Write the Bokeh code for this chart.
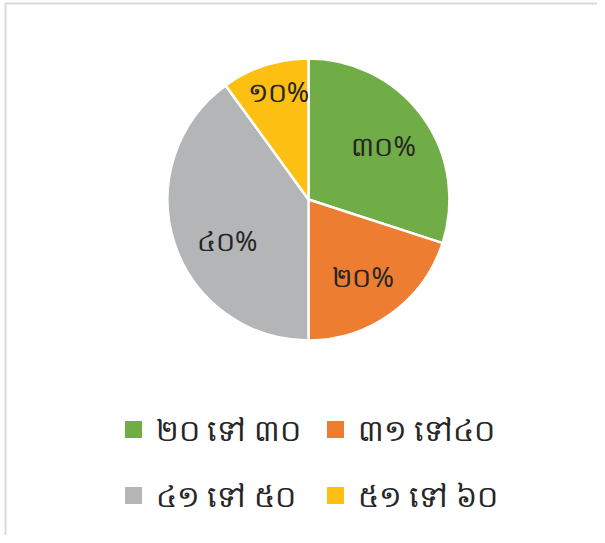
import numpy as np
from bokeh.plotting import figure
from bokeh.models import Range1d, ColumnDataSource
from bokeh.core.properties import value
from bokeh.embed import file_html
from bokeh.resources import INLINE

# ---- data ----
categories = ["២០ ទៅ ៣០", "៣១ ទៅ៤០", "៤១ ទៅ ៥០", "៥១ ទៅ ៦០"]
shares = [30, 20, 40, 10]
pct_labels = ["៣០%", "២០%", "៤០%", "១០%"]
colors = ["#70AD47", "#ED7D31", "#B4B5B7", "#FCBF12"]

W, H = 597, 535
p = figure(width=W, height=H, output_backend="svg", toolbar_location=None,
           x_range=Range1d(0, W), y_range=Range1d(0, H),
           min_border=0, outline_line_color=None)
p.axis.visible = False
p.grid.visible = False
p.background_fill_color = "white"
p.border_fill_color = "white"

def X(px):
    return px

def Y(py):
    return H - py

# border (left + top)
p.line(x=[X(5), X(5), W], y=[0, Y(3), Y(3)], line_color="#D9D9D9", line_width=2)

# ---- pie ----
cx, cy, R = X(308), Y(199), 141
vals = np.array(shares, dtype=float)
frac = vals / vals.sum()
cum = np.concatenate([[0], np.cumsum(frac)])
start = np.pi / 2 - 2 * np.pi * cum[:-1]
end = np.pi / 2 - 2 * np.pi * cum[1:]
mid = (start + end) / 2
src = ColumnDataSource(dict(start=start, end=end, color=colors))
p.wedge(x=cx, y=cy, radius=R, start_angle="start", end_angle="end",
        direction="clock", fill_color="color", line_color="white",
        line_width=2.5, source=src)

# label placement (style): radius fraction plus small pixel nudges
label_r = np.array([0.65, 0.66, 0.65, 0.78]) * R
nudge_x = np.array([1, 0, 6, 4])
nudge_y = np.array([0, -2, -13, 3])
lx = cx + label_r * np.cos(mid) + nudge_x
ly = cy + label_r * np.sin(mid) + nudge_y
p.text(x=lx, y=ly, text=pct_labels, text_align="center", text_baseline="middle",
       text_font=value("Noto Sans"), text_font_size="27px", text_color="#262626")

# ---- legend ----
leg_sq_x = [X(133), X(335), X(133), X(335)]
leg_y = [Y(429), Y(429), Y(495), Y(495)]
p.scatter(x=leg_sq_x, y=leg_y, marker="square", size=17, fill_color=colors,
          line_color=None)
p.text(x=[v + 22 for v in leg_sq_x], y=leg_y, text=categories, text_align="left",
       text_baseline="middle", text_font=value("Noto Sans"),
       text_font_size="30px", text_color="#262626")

open("out.html", "w").write(file_html(p, INLINE))
